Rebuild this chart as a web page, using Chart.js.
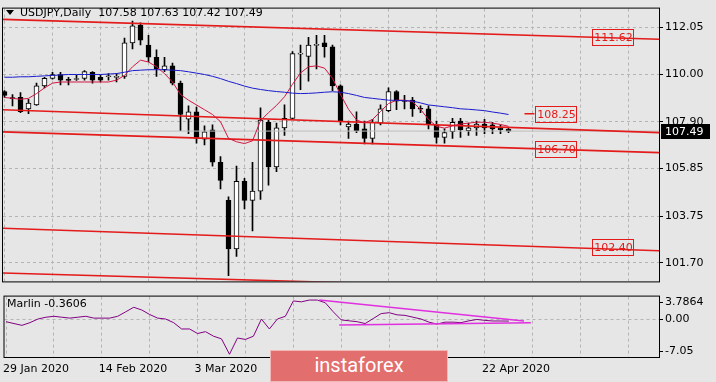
<!DOCTYPE html>
<html lang="en">
<head>
<meta charset="UTF-8">
<title>USDJPY Daily</title>
<script src="https://cdn.jsdelivr.net/npm/chart.js@4.4.1/dist/chart.umd.min.js"></script>
<style>
    html, body { margin: 0; padding: 0; background: #e6e6e6; }
    .wrap { position: relative; width: 716px; height: 382px; overflow: hidden; }
    #main { position: absolute; left: 0; top: 0; }
    #osc { position: absolute; left: 0; top: 288px; }
    .logo {
        position: absolute; left: 270px; top: 350px; width: 178px; height: 32px;
        background: #e26e6e; border: 1px solid #f2b8b8; box-sizing: border-box;
        color: #fff; font-family: Roboto, sans-serif; font-size: 20px; line-height: 29px; text-align: center;
    }
</style>
</head>
<body>
<div class="wrap">
    <canvas id="main" width="716" height="290"></canvas>
    <canvas id="osc" width="716" height="94"></canvas>
    <div class="logo">instaforex</div>
</div>
<script>
    // candles, one per trading day starting 29 Jan 2020
    const opens = [109.23,108.95,108.97,108.47,108.64,109.48,109.81,109.98,109.74,109.76,109.81,110.07,109.86,109.88,109.85,109.90,111.37,112.16,111.28,110.74,110.19,110.36,109.60,108.01,108.34,107.13,107.55,106.12,104.44,102.30,105.28,104.44,104.85,107.88,105.91,107.63,108.05,110.88,110.78,111.26,111.37,111.20,109.48,107.67,107.80,107.59,107.17,107.84,108.39,109.23,108.83,108.85,108.47,108.47,107.76,107.21,107.46,107.93,107.51,107.63,107.80,107.76,107.63,107.58]
    const highs = [109.27,109.10,109.18,108.89,109.60,109.86,110.07,110.07,109.86,109.94,110.15,110.11,109.94,110.02,110.02,111.58,112.33,112.25,111.70,111.07,110.74,110.48,109.69,108.60,108.55,107.72,107.76,106.37,104.60,105.95,105.41,106.12,108.51,107.97,107.84,108.64,110.99,111.28,111.62,111.70,111.70,111.28,109.52,107.93,108.34,107.93,108.01,108.64,109.39,109.27,109.06,108.97,108.60,108.60,107.93,107.59,108.05,108.05,107.84,107.93,108.01,107.88,107.76,107.63]
    const lows = [108.97,108.60,108.30,108.26,108.62,109.39,109.77,109.52,109.52,109.72,109.73,109.60,109.65,109.73,109.65,109.81,111.11,111.28,110.53,109.90,110.11,109.52,107.51,107.38,106.96,106.88,105.95,104.94,101.13,101.97,104.06,103.10,104.48,105.11,105.70,107.30,108.01,109.31,109.69,110.23,110.74,109.27,107.76,107.17,107.42,106.92,106.92,107.76,108.34,108.43,108.47,108.13,108.30,107.59,106.96,106.96,107.17,107.21,107.30,107.30,107.38,107.38,107.38,107.42]
    const closes = [109.06,108.92,108.34,108.72,109.48,109.81,109.98,109.73,109.72,109.78,110.11,109.73,109.73,109.90,109.87,111.37,112.12,111.49,110.74,110.23,110.36,109.60,108.22,108.34,107.17,107.46,106.12,105.32,102.30,105.28,104.44,104.85,107.97,105.91,107.63,108.05,110.90,110.90,111.28,111.28,111.20,109.48,107.93,107.80,107.51,107.17,107.88,108.47,109.23,108.81,108.79,108.47,108.45,107.80,107.21,107.42,107.88,107.55,107.63,107.80,107.63,107.59,107.55,107.49]

    // moving averages
    const maFast = [108.97,108.93,108.89,108.93,109.14,109.39,109.60,109.65,109.65,109.65,109.65,109.65,109.65,109.65,109.73,109.94,110.32,110.61,110.53,110.32,110.02,109.65,109.10,108.85,108.64,108.43,108.22,107.90,107.17,107.02,106.94,107.06,107.95,108.30,108.62,109.00,109.55,110.05,110.32,110.36,110.26,109.81,109.10,108.45,107.98,107.85,108.00,108.35,108.70,108.85,108.85,108.78,108.45,108.00,107.70,107.62,107.72,107.80,107.84,107.88,107.88,107.84,107.78,107.70]
    const maSlow = [109.86,109.86,109.88,109.88,109.90,109.92,109.94,109.96,109.98,109.98,109.98,109.98,109.98,110.00,110.02,110.08,110.15,110.17,110.19,110.19,110.19,110.17,110.15,110.10,110.04,109.98,109.90,109.80,109.68,109.58,109.47,109.38,109.32,109.27,109.23,109.20,109.16,109.14,109.15,109.17,109.20,109.22,109.20,109.14,109.06,108.97,108.93,108.89,108.85,108.84,108.83,108.81,108.73,108.64,108.60,108.56,108.52,108.47,108.45,108.42,108.39,108.33,108.28,108.22]

    // Marlin oscillator
    const marlin = [-0.50,-0.91,-1.31,-0.71,0.10,0.50,0.71,0.50,0.30,0.50,0.71,0.30,0.30,0.30,0.71,1.71,2.72,2.12,1.11,0.30,0.10,-0.71,-2.12,-2.12,-3.13,-2.72,-3.73,-4.33,-7.76,-4.13,-4.46,-3.73,0.10,-2.12,0.10,0.71,4.13,3.93,4.33,4.33,3.73,1.71,-0.10,-0.30,-0.50,-0.91,0.20,1.31,1.51,1.03,0.91,0.50,0.10,-0.60,-1.03,-0.60,-0.60,-0.71,-0.30,0.00,-0.20,-0.34,-0.34,-0.36]

    // trend lines: [barFrom, priceFrom, barTo, priceTo]
    const channelLines = [
        [-0.5, 112.41, 82, 111.53],
        [-0.5, 108.43, 82, 107.42],
        [-0.5, 107.46, 82, 106.54],
        [-0.5, 103.22, 82, 102.22],
        [-0.5, 101.25, 82, 100.42]
    ]
    const marlinLines = [
        [39.25, 4.33, 64.9, -0.36],
        [41.75, -1.23, 65.75, -0.71]
    ]

    // price labels on the chart
    const levelText = ['111.62', '108.25', '106.70', '102.40']
    const levelPrice = [111.62, 108.25, 106.70, 102.40]
    const levelBar = [73.4, 66.25, 66.25, 73.4]

    const priceTicks = [101.70, 103.75, 105.85, 107.90, 110.00, 112.05]
    const oscTicks = [-7.05, 0, 3.7864]
    const oscTickText = ['-7.05', '0.00', '3.7864']
    const dateBars = [0, 12, 24, 36, 48, 60]
    const dateText = ['29 Jan 2020', '14 Feb 2020', '3 Mar 2020', '19 Mar 2020', '6 Apr 2020', '22 Apr 2020']
    const gridBars = [0, 6, 12, 18, 24, 30, 36, 42, 48, 54, 60, 66, 72, 78]

    const symbolName = 'USDJPY,Daily'
    const ohlcNow = ['107.58', '107.63', '107.42', '107.49']
    const bid = 107.49
    const marlinName = 'Marlin'
    const marlinNow = '-0.3606'

    const xMin = -0.1875
    const xMax = 81.8125
    const GRID = '#b4b4b4'
    const CHAN = '#e41b1b'

    Chart.defaults.font.family = "'DejaVu Sans', sans-serif"
    Chart.defaults.font.size = 11
    Chart.defaults.color = '#000'

    function seg(l) {
        return [{x: l[0], y: l[1]}, {x: l[2], y: l[3]}]
    }

    function lineSet(data, color, width, order) {
        return {type: 'line', data: data, borderColor: color, borderWidth: width,
            pointRadius: 0, tension: 0, fill: false, order: order}
    }

    const frame = {
        id: 'frame',
        afterDraw(chart) {
            const {ctx, chartArea: a} = chart
            ctx.save()
            ctx.strokeStyle = '#000'
            ctx.lineWidth = 1
            ctx.strokeRect(a.left - 0.5, a.top - 0.5, a.width + 1, a.height + 1)
            ctx.restore()
        }
    }

    const mainText = {
        id: 'mainText',
        afterDatasetsDraw(chart) {
            const {ctx, scales: {x, y}} = chart
            ctx.save()
            ctx.font = "11px 'DejaVu Sans'"
            ctx.textBaseline = 'middle'
            ctx.textAlign = 'center'
            ctx.strokeStyle = CHAN
            ctx.fillStyle = CHAN
            ctx.lineWidth = 1
            for (let i = 0; i < levelText.length; i++) {
                const px = Math.round(x.getPixelForValue(levelBar[i])) + 0.5
                const py = Math.round(y.getPixelForValue(levelPrice[i])) + 0.5
                ctx.strokeRect(px, py - 8, 41, 16)
                ctx.fillText(levelText[i], px + 21, py + 1)
            }
            ctx.restore()
        },
        afterDraw(chart) {
            const {ctx, chartArea: a, scales: {y}} = chart
            ctx.save()
            // header
            ctx.fillStyle = '#000'
            ctx.beginPath()
            ctx.moveTo(6, 10)
            ctx.lineTo(14, 10)
            ctx.lineTo(10, 15)
            ctx.closePath()
            ctx.fill()
            ctx.font = "11px 'DejaVu Sans'"
            ctx.textBaseline = 'middle'
            ctx.fillText(symbolName + '  ' + ohlcNow.join(' '), 20, 13)
            // bid box on the price axis
            const py = Math.round(y.getPixelForValue(bid))
            ctx.fillStyle = '#000'
            ctx.fillRect(a.right + 2, py - 7, 49, 15)
            ctx.fillStyle = '#fff'
            ctx.fillText(bid.toFixed(2), a.right + 6, py + 1)
            ctx.restore()
        }
    }

    const oscText = {
        id: 'oscText',
        afterDraw(chart) {
            const {ctx} = chart
            ctx.save()
            ctx.fillStyle = '#000'
            ctx.font = "11px 'DejaVu Sans'"
            ctx.textBaseline = 'middle'
            ctx.fillText(marlinName + ' ' + marlinNow, 7, 16)
            ctx.restore()
        }
    }

    const xGrid = {
        type: 'linear', min: xMin, max: xMax, offset: false,
        afterBuildTicks: s => { s.ticks = gridBars.map(v => ({value: v})) },
        grid: {color: GRID, drawTicks: false, offset: false},
        border: {display: false, dash: [3, 3]}
    }

    const idx = opens.map((v, i) => i)

    const mainSets = [
        {
            type: 'bar', label: 'body', grouped: false, order: 2,
            data: idx.map(i => ({x: i, y: [opens[i], closes[i]]})),
            backgroundColor: idx.map(i => closes[i] >= opens[i] ? '#fff' : '#000'),
            borderColor: '#000', borderWidth: 1, borderSkipped: false,
            barThickness: 5, minBarLength: 1
        },
        {
            type: 'bar', label: 'wick', grouped: false, order: 3,
            data: idx.map(i => ({x: i, y: [lows[i], highs[i]]})),
            backgroundColor: '#000', borderWidth: 0, barThickness: 1
        },
        lineSet([{x: -1, y: bid}, {x: 83, y: bid}], '#bdbdbd', 1, 1),
        lineSet(idx.map(i => ({x: i, y: maSlow[i]})), '#1a1ad0', 1, 0),
        lineSet(idx.map(i => ({x: i, y: maFast[i]})), '#d41440', 1, 0),
        lineSet([{x: 65, y: 108.25}, {x: 66.25, y: 108.25}], CHAN, 1.5, 0)
    ]
    channelLines.forEach(l => mainSets.push(lineSet(seg(l), CHAN, 1.6, 0)))

    new Chart(document.getElementById('main'), {
        data: {datasets: mainSets},
        options: {
            responsive: false,
            animation: false,
            layout: {padding: {left: 3, top: 2, right: 0, bottom: 2}},
            plugins: {legend: {display: false}, tooltip: {enabled: false}},
            scales: {
                x: Object.assign({}, xGrid, {
                    ticks: {display: false},
                    afterFit: s => { s.height = 0 }
                }),
                y: {
                    position: 'right', min: 100.875, max: 112.88,
                    afterBuildTicks: s => { s.ticks = priceTicks.map(v => ({value: v})) },
                    ticks: {color: '#000', padding: 2, callback: v => v.toFixed(2)},
                    grid: {color: GRID, tickColor: '#000', tickLength: 4, tickBorderDash: []},
                    border: {display: false, dash: [3, 3]},
                    afterFit: s => { s.width = 57 }
                }
            }
        },
        plugins: [frame, mainText]
    })

    const oscSets = [
        lineSet(idx.map(i => ({x: i, y: marlin[i]})), '#800080', 1, 1)
    ]
    marlinLines.forEach(l => oscSets.push(lineSet(seg(l), '#e030e0', 1.5, 0)))

    new Chart(document.getElementById('osc'), {
        data: {datasets: oscSets},
        options: {
            responsive: false,
            animation: false,
            layout: {padding: {left: 3, top: 2, right: 0, bottom: 0}},
            plugins: {legend: {display: false}, tooltip: {enabled: false}},
            scales: {
                x: Object.assign({}, xGrid, {
                    ticks: {
                        color: '#000', align: 'start', padding: 6, labelOffset: -3,
                        autoSkip: false, maxRotation: 0,
                        callback: v => {
                            const k = dateBars.indexOf(v)
                            return k < 0 ? '' : dateText[k]
                        }
                    },
                    afterFit: s => { s.height = 25 }
                }),
                y: {
                    position: 'right', min: -8.37, max: 5.1,
                    afterBuildTicks: s => { s.ticks = oscTicks.map(v => ({value: v})) },
                    ticks: {color: '#000', padding: 2, callback: (v, i) => oscTickText[i]},
                    grid: {
                        color: c => (c.tick && c.tick.value === 0) ? GRID : 'rgba(0,0,0,0)',
                        tickColor: '#000', tickLength: 4, tickBorderDash: []
                    },
                    border: {display: false, dash: [3, 3]},
                    afterFit: s => { s.width = 57 }
                }
            }
        },
        plugins: [frame, oscText]
    })
</script>
</body>
</html>
